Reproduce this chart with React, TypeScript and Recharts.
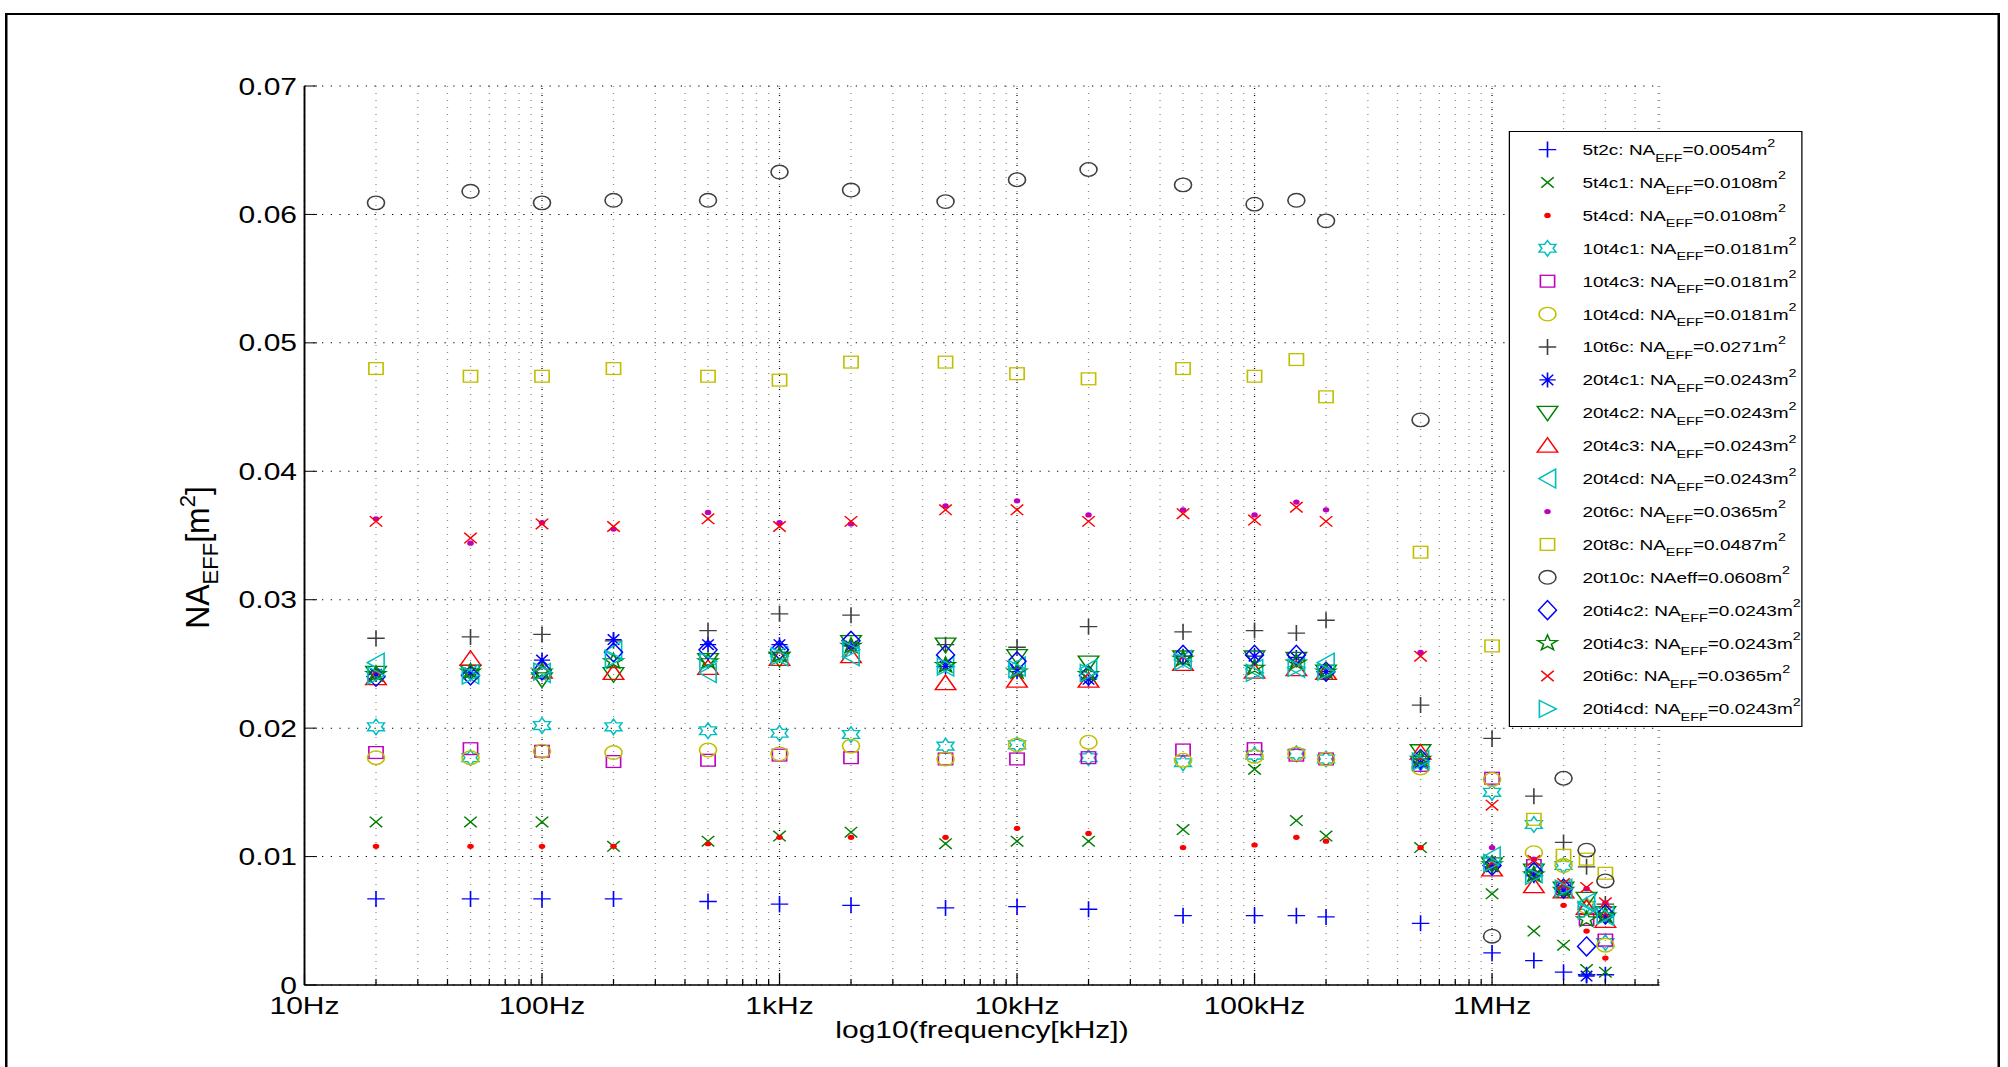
import React from 'react';
import { ScatterChart, Scatter, XAxis, YAxis, CartesianGrid, ReferenceLine, Legend } from 'recharts';

// ---------- data ----------
const FREQS = [20, 50, 100, 200, 500, 1e3, 2e3, 5e3, 1e4, 2e4, 5e4, 1e5, 1.5e5, 2e5, 5e5, 1e6, 1.5e6, 2e6, 2.5e6, 3e6];

const V_5t2c = [0.0067, 0.0067, 0.0067, 0.0067, 0.0065, 0.0063, 0.0062, 0.006, 0.0061, 0.0059, 0.0054, 0.0054, 0.0054, 0.0053, 0.0048, 0.0025, 0.0019, 0.001, 0.0008, 0.0008];
const V_5t4c1 = [0.0127, 0.0127, 0.0127, 0.0108, 0.0112, 0.0116, 0.0119, 0.011, 0.0112, 0.0112, 0.0121, 0.0168, 0.0128, 0.0116, 0.0107, 0.0071, 0.0042, 0.0031, 0.0012, 0.001];
const V_5t4cd = [0.0108, 0.0108, 0.0108, 0.0108, 0.011, 0.0115, 0.0115, 0.0115, 0.0122, 0.0118, 0.0107, 0.0109, 0.0115, 0.0112, 0.0107, 0.0092, 0.0088, 0.0062, 0.0042, 0.0021];
const V_10t4c1 = [0.0201, 0.0177, 0.0202, 0.0201, 0.0198, 0.0196, 0.0195, 0.0186, 0.0187, 0.0177, 0.0173, 0.0179, 0.018, 0.0176, 0.0173, 0.015, 0.0125, 0.0093, 0.0062, 0.0033];
const V_10t4c3 = [0.0181, 0.0184, 0.0182, 0.0174, 0.0175, 0.0179, 0.0177, 0.0176, 0.0176, 0.0177, 0.0183, 0.0184, 0.0179, 0.0176, 0.0171, 0.0161, 0.0093, 0.0075, 0.0051, 0.0035];
const V_10t4cd = [0.0177, 0.0177, 0.0182, 0.0181, 0.0183, 0.018, 0.0186, 0.0176, 0.0187, 0.0189, 0.0175, 0.0178, 0.018, 0.0176, 0.0169, 0.016, 0.0103, 0.0093, 0.0061, 0.0031];
const V_10t6c = [0.027, 0.0271, 0.0273, 0.0268, 0.0276, 0.0289, 0.0288, 0.0265, 0.0263, 0.0279, 0.0275, 0.0276, 0.0274, 0.0284, 0.0218, 0.0192, 0.0147, 0.0111, 0.0092, 0.0063];
const V_20t4c1 = [0.0242, 0.0243, 0.0253, 0.0269, 0.0265, 0.0265, 0.0264, 0.0248, 0.0244, 0.0238, 0.0256, 0.0256, 0.0255, 0.0244, 0.0173, 0.0092, 0.0085, 0.0074, 0.0007, 0.0053];
const V_20t4c2 = [0.0243, 0.0244, 0.0238, 0.0242, 0.0253, 0.0254, 0.0267, 0.0265, 0.0256, 0.0251, 0.0255, 0.0255, 0.0254, 0.0244, 0.0182, 0.0094, 0.0089, 0.0075, 0.0067, 0.0056];
const V_20t4c3 = [0.0239, 0.0254, 0.0244, 0.0243, 0.0247, 0.0254, 0.0256, 0.0235, 0.0237, 0.0237, 0.025, 0.0244, 0.0246, 0.0243, 0.0181, 0.009, 0.0077, 0.0073, 0.006, 0.005];
const V_20t4cd = [0.0251, 0.0242, 0.0243, 0.026, 0.0243, 0.0256, 0.0256, 0.0248, 0.0248, 0.0246, 0.0253, 0.0246, 0.0247, 0.0251, 0.0175, 0.01, 0.0087, 0.0075, 0.0064, 0.0054];
const V_20t6c = [0.0363, 0.0344, 0.036, 0.0355, 0.0368, 0.036, 0.0359, 0.0373, 0.0377, 0.0366, 0.037, 0.0366, 0.0376, 0.037, 0.0259, 0.0107, 0.0098, 0.0077, 0.0075, 0.0064];
const V_20t8c = [0.048, 0.0474, 0.0474, 0.048, 0.0474, 0.0471, 0.0485, 0.0485, 0.0476, 0.0472, 0.048, 0.0474, 0.0487, 0.0458, 0.0337, 0.0264, 0.0129, 0.0101, 0.0098, 0.0087];
const V_20t10c = [0.0609, 0.0618, 0.0609, 0.0611, 0.0611, 0.0633, 0.0619, 0.061, 0.0627, 0.0635, 0.0623, 0.0608, 0.0611, 0.0595, 0.044, 0.0038, null, 0.0161, 0.0105, 0.0081];
const V_20ti4c2 = [0.024, 0.0241, 0.0245, 0.0259, 0.0261, 0.0261, 0.0268, 0.0257, 0.0252, 0.0241, 0.0257, 0.0257, 0.0257, 0.0244, 0.0176, 0.0093, 0.0088, 0.0075, 0.003, 0.0055];
const V_20ti4c3 = [0.0242, 0.0244, 0.0244, 0.0252, 0.0252, 0.0257, 0.0264, 0.0249, 0.0244, 0.0242, 0.0254, 0.0247, 0.0251, 0.0244, 0.0176, 0.0094, 0.0086, 0.0074, 0.0051, 0.0054];
const V_20ti6c = [0.0361, 0.0348, 0.0359, 0.0357, 0.0363, 0.0357, 0.0361, 0.037, 0.037, 0.0361, 0.0367, 0.0362, 0.0372, 0.0361, 0.0256, 0.014, 0.0097, 0.0079, 0.0076, 0.0064];
const V_20ti4cd = [0.0241, 0.0241, 0.0244, 0.0254, 0.0252, 0.0256, 0.0261, 0.0248, 0.0246, 0.0243, 0.0252, 0.0243, 0.0247, 0.0244, 0.0174, 0.0095, 0.0085, 0.0075, 0.0058, 0.0054];

const X_MAJOR = [10, 100, 1e3, 1e4, 1e5, 1e6];
const X_MAJOR_LABELS = ['10Hz', '100Hz', '1kHz', '10kHz', '100kHz', '1MHz'];
const X_MINOR = [
  20, 30, 40, 50, 60, 70, 80, 90,
  200, 300, 400, 500, 600, 700, 800, 900,
  2e3, 3e3, 4e3, 5e3, 6e3, 7e3, 8e3, 9e3,
  2e4, 3e4, 4e4, 5e4, 6e4, 7e4, 8e4, 9e4,
  2e5, 3e5, 4e5, 5e5, 6e5, 7e5, 8e5, 9e5,
  2e6, 3e6, 4e6, 5e6,
];
const X_DOMAIN = [10, 5.07e6];
const Y_TICKS = [0, 0.01, 0.02, 0.03, 0.04, 0.05, 0.06, 0.07];
const Y_TICK_LABELS = ['0', '0.01', '0.02', '0.03', '0.04', '0.05', '0.06', '0.07'];

const TITLE = 'effective area for 1D LTTC prototypes';
const X_LABEL = 'log10(frequency[kHz])';

// ---------- styles ----------
const BLUE = '#0000ff';
const GREEN = '#008000';
const RED = '#ff0000';
const CYAN = '#00bfbf';
const MAG = '#bf00bf';
const YEL = '#bfbf00';
const DARK = '#404040';
const FONT = '"Liberation Sans", Arial, Helvetica, sans-serif';
const SX = 1.25; // horizontal stretch of the original figure
const W = 1606;
const H = 1067;

type Kind = 'plus' | 'x' | 'dot' | 'hexagram' | 'square' | 'circle' | 'asterisk' | 'tridown' | 'triup' | 'trileft' | 'triright' | 'diamond' | 'pentagram';

const SERIES: { name: string; values: (number | null)[]; kind: Kind; color: string; area: string; eff?: boolean }[] = [
  { name: '5t2c', values: V_5t2c, kind: 'plus', color: BLUE, area: '0.0054' },
  { name: '5t4c1', values: V_5t4c1, kind: 'x', color: GREEN, area: '0.0108' },
  { name: '5t4cd', values: V_5t4cd, kind: 'dot', color: RED, area: '0.0108' },
  { name: '10t4c1', values: V_10t4c1, kind: 'hexagram', color: CYAN, area: '0.0181' },
  { name: '10t4c3', values: V_10t4c3, kind: 'square', color: MAG, area: '0.0181' },
  { name: '10t4cd', values: V_10t4cd, kind: 'circle', color: YEL, area: '0.0181' },
  { name: '10t6c', values: V_10t6c, kind: 'plus', color: DARK, area: '0.0271' },
  { name: '20t4c1', values: V_20t4c1, kind: 'asterisk', color: BLUE, area: '0.0243' },
  { name: '20t4c2', values: V_20t4c2, kind: 'tridown', color: GREEN, area: '0.0243' },
  { name: '20t4c3', values: V_20t4c3, kind: 'triup', color: RED, area: '0.0243' },
  { name: '20t4cd', values: V_20t4cd, kind: 'trileft', color: CYAN, area: '0.0243' },
  { name: '20t6c', values: V_20t6c, kind: 'dot', color: MAG, area: '0.0365' },
  { name: '20t8c', values: V_20t8c, kind: 'square', color: YEL, area: '0.0487' },
  { name: '20t10c', values: V_20t10c, kind: 'circle', color: DARK, area: '0.0608', eff: true },
  { name: '20ti4c2', values: V_20ti4c2, kind: 'diamond', color: BLUE, area: '0.0243' },
  { name: '20ti4c3', values: V_20ti4c3, kind: 'pentagram', color: GREEN, area: '0.0243' },
  { name: '20ti6c', values: V_20ti6c, kind: 'x', color: RED, area: '0.0365' },
  { name: '20ti4cd', values: V_20ti4cd, kind: 'triright', color: CYAN, area: '0.0243' },
];

function starPts(cx: number, cy: number, n: number, ro: number, ri: number): string {
  const pts: string[] = [];
  for (let k = 0; k < 2 * n; k++) {
    const r = k % 2 ? ri : ro;
    const a = (k * Math.PI) / n;
    pts.push(`${cx + r * Math.sin(a)},${cy - r * Math.cos(a)}`);
  }
  return pts.join(' ');
}

function Marker({ kind, color, cx, cy }: { kind: Kind; color: string; cx: number; cy: number }) {
  const p = { stroke: color, strokeWidth: 1.3, fill: 'none' };
  if (cx == null || cy == null || isNaN(cx) || isNaN(cy)) return null;
  switch (kind) {
    case 'plus':
      return <path {...p} d={`M${cx - 7},${cy}H${cx + 7}M${cx},${cy - 8}V${cy + 8}`} />;
    case 'x':
      return <path {...p} d={`M${cx - 5},${cy - 5.3}L${cx + 5},${cy + 5.3}M${cx - 5},${cy + 5.3}L${cx + 5},${cy - 5.3}`} />;
    case 'dot':
      return <circle cx={cx} cy={cy} r={2.6} fill={color} stroke="none" />;
    case 'square':
      return <rect {...p} x={cx - 5.7} y={cy - 5.9} width={11.4} height={11.8} />;
    case 'circle':
      return <circle {...p} cx={cx} cy={cy} r={6.8} />;
    case 'asterisk':
      return (
        <path
          {...p}
          d={`M${cx - 6.5},${cy}H${cx + 6.5}M${cx},${cy - 7.5}V${cy + 7.5}M${cx - 4.6},${cy - 5.3}L${cx + 4.6},${cy + 5.3}M${cx - 4.6},${cy + 5.3}L${cx + 4.6},${cy - 5.3}`}
        />
      );
    case 'tridown':
      return <polygon {...p} points={`${cx - 8.2},${cy - 6.5} ${cx + 8.2},${cy - 6.5} ${cx},${cy + 8}`} />;
    case 'triup':
      return <polygon {...p} points={`${cx},${cy - 8} ${cx - 8.2},${cy + 6.5} ${cx + 8.2},${cy + 6.5}`} />;
    case 'trileft':
      return <polygon {...p} points={`${cx - 7},${cy} ${cx + 6.5},${cy - 9.5} ${cx + 6.5},${cy + 9.5}`} />;
    case 'triright':
      return <polygon {...p} points={`${cx + 7},${cy} ${cx - 6.5},${cy - 8.5} ${cx - 6.5},${cy + 8.5}`} />;
    case 'diamond':
      return <polygon {...p} points={`${cx},${cy - 9.5} ${cx + 7.2},${cy} ${cx},${cy + 9.5} ${cx - 7.2},${cy}`} />;
    case 'hexagram':
      return <polygon {...p} points={starPts(cx, cy, 6, 7.8, 4.5)} />;
    case 'pentagram':
      return <polygon {...p} points={starPts(cx, cy, 5, 8.2, 3.3)} />;
    default:
      return null;
  }
}

// ---------- axis ticks ----------
const XTickBottom = (props: any) => {
  const { x, y, payload } = props;
  const idx = X_MAJOR.indexOf(payload.value);
  const major = idx >= 0;
  return (
    <g>
      <line x1={x} x2={x} y1={y} y2={y - (major ? 12 : 6)} stroke="#000" strokeWidth={1} />
      {major && (
        <text x={x} y={y + 29} textAnchor="middle" fontSize={24} fontFamily={FONT} fill="#000">
          {X_MAJOR_LABELS[idx]}
        </text>
      )}
    </g>
  );
};

const XTickTop = (props: any) => {
  const { x, y, payload } = props;
  const major = X_MAJOR.indexOf(payload.value) >= 0;
  return <line x1={x} x2={x} y1={y} y2={y + (major ? 12 : 6)} stroke="#000" strokeWidth={1} />;
};

const YTickLeft = (props: any) => {
  const { x, y, payload } = props;
  const idx = Y_TICKS.indexOf(payload.value);
  return (
    <g>
      <line x1={x} x2={x + 10} y1={y} y2={y} stroke="#000" strokeWidth={1} />
      <text x={x - 6} y={y} dy="0.36em" textAnchor="end" fontSize={24} fontFamily={FONT} fill="#000">
        {Y_TICK_LABELS[idx]}
      </text>
    </g>
  );
};

const YTickRight = (props: any) => {
  const { x, y } = props;
  return <line x1={x} x2={x - 10} y1={y} y2={y} stroke="#000" strokeWidth={1} />;
};

// ---------- labels ----------
const TitleLabel = (props: any) => {
  const vb = props.viewBox || {};
  return (
    <text x={vb.x + vb.width / 2} y={vb.y - 20} textAnchor="middle" fontSize={31} fontFamily={FONT} fill="#000">
      {TITLE}
    </text>
  );
};

const XAxisLabel = (props: any) => {
  const vb = props.viewBox || {};
  return (
    <text x={vb.x + vb.width / 2} y={vb.y + 53} textAnchor="middle" fontSize={24} fontFamily={FONT} fill="#000">
      {X_LABEL}
    </text>
  );
};

const YAxisLabel = (props: any) => {
  const vb = props.viewBox || {};
  const cx = vb.x + 167;
  const cy = vb.y + vb.height / 2 + 22;
  return (
    <text
      x={0}
      y={0}
      transform={`translate(${cx} ${cy}) scale(0.82 1) rotate(-90)`}
      textAnchor="middle"
      fontSize={32}
      fontFamily={FONT}
      fill="#000"
    >
      NA
      <tspan fontSize={22} dy={9}>EFF</tspan>
      <tspan dy={-9}>[m</tspan>
      <tspan fontSize={22} dy={-13}>2</tspan>
      <tspan dy={13}>]</tspan>
    </text>
  );
};

// ---------- legend ----------
const LEG_W = 235;
const LEG_H = 596;
const LegendBox = () => (
  <div style={{ width: LEG_W, height: LEG_H, border: '1.5px solid #000', background: '#fff', boxSizing: 'border-box' }}>
    <svg width={LEG_W - 3} height={LEG_H - 3} style={{ display: 'block', overflow: 'visible' }}>
      {SERIES.map((s, i) => {
        const cy = 17.6 + i * 32.9;
        return (
          <g key={s.name}>
            <Marker kind={s.kind} color={s.color} cx={30} cy={cy} />
            <text x={58} y={cy + 5.5} fontSize={15.2} fontFamily={FONT} fill="#000">
              {s.eff ? (
                <>
                  {`${s.name}: NAeff=${s.area}m`}
                  <tspan fontSize={11.5} dy={-8.5}>2</tspan>
                </>
              ) : (
                <>
                  {`${s.name}: NA`}
                  <tspan fontSize={11.5} dy={6.5}>EFF</tspan>
                  <tspan dy={-6.5}>{`=${s.area}m`}</tspan>
                  <tspan fontSize={11.5} dy={-8.5}>2</tspan>
                </>
              )}
            </text>
          </g>
        );
      })}
    </svg>
  </div>
);

const X_ALL_TICKS = [...X_MAJOR, ...X_MINOR].sort((a, b) => a - b);

export default function App() {
  return (
    <div
      style={{
        position: 'absolute',
        left: 0,
        top: 0,
        width: W,
        height: H,
        overflow: 'hidden',
        background: '#fff',
        transform: `scaleX(${SX})`,
        transformOrigin: '0 0',
        fontFamily: FONT,
      }}
    >
      <div
        style={{
          position: 'absolute',
          left: 4,
          top: 13,
          width: 1596,
          height: 1120,
          border: '2px solid #000',
          boxSizing: 'border-box',
        }}
      />
      <div style={{ position: 'absolute', left: 0, top: 0 }}>
        <ScatterChart width={W} height={H} margin={{ top: 86, right: 278.4, bottom: 0, left: 0 }}>
          <CartesianGrid horizontal={false} vertical stroke="#8a8a8a" strokeDasharray="1 6" strokeWidth={1} />
          <CartesianGrid horizontal vertical={false} stroke="#000" strokeDasharray="1 6" strokeWidth={1} />
          {X_MAJOR.map((v) => (
            <ReferenceLine key={v} x={v} stroke="#000" strokeDasharray="1 6" strokeWidth={1} ifOverflow="extendDomain" />
          ))}
          <XAxis
            dataKey="f"
            type="number"
            scale="log"
            domain={X_DOMAIN}
            allowDataOverflow
            ticks={X_ALL_TICKS}
            interval={0}
            height={82}
            tickSize={0}
            tickMargin={0}
            tick={<XTickBottom />}
            tickLine={false}
            axisLine={{ stroke: '#000', strokeWidth: 1.5 }}
            label={<XAxisLabel />}
          />
          <XAxis
            xAxisId="top"
            orientation="top"
            type="number"
            scale="log"
            domain={X_DOMAIN}
            allowDataOverflow
            ticks={X_ALL_TICKS}
            interval={0}
            height={0}
            tickSize={0}
            tickMargin={0}
            tick={<XTickTop />}
            tickLine={false}
            axisLine={{ stroke: '#000', strokeWidth: 1.5 }}
            label={<TitleLabel />}
          />
          <YAxis
            dataKey="v"
            type="number"
            domain={[0, 0.07]}
            allowDataOverflow
            ticks={Y_TICKS}
            interval={0}
            width={243.6}
            tickSize={0}
            tickMargin={0}
            tick={<YTickLeft />}
            tickLine={false}
            axisLine={{ stroke: '#000', strokeWidth: 1.5 }}
            label={<YAxisLabel />}
          />
          <YAxis
            yAxisId="right"
            orientation="right"
            type="number"
            domain={[0, 0.07]}
            allowDataOverflow
            ticks={Y_TICKS}
            interval={0}
            width={0}
            tickSize={0}
            tickMargin={0}
            tick={<YTickRight />}
            tickLine={false}
            axisLine={{ stroke: '#000', strokeWidth: 1.5 }}
          />
          {SERIES.map((s) => (
            <Scatter
              key={s.name}
              name={s.name}
              data={FREQS.map((f, i) => ({ f, v: s.values[i] })).filter((d) => d.v != null)}
              isAnimationActive={false}
              shape={(pp: any) => <Marker kind={s.kind} color={s.color} cx={pp.cx} cy={pp.cy} />}
            />
          ))}
          <Legend
            content={<LegendBox />}
            layout="horizontal"
            verticalAlign="middle"
            align="center"
            wrapperStyle={{ left: 1207, top: 130.5, width: LEG_W, height: LEG_H }}
          />
        </ScatterChart>
      </div>
    </div>
  );
}
